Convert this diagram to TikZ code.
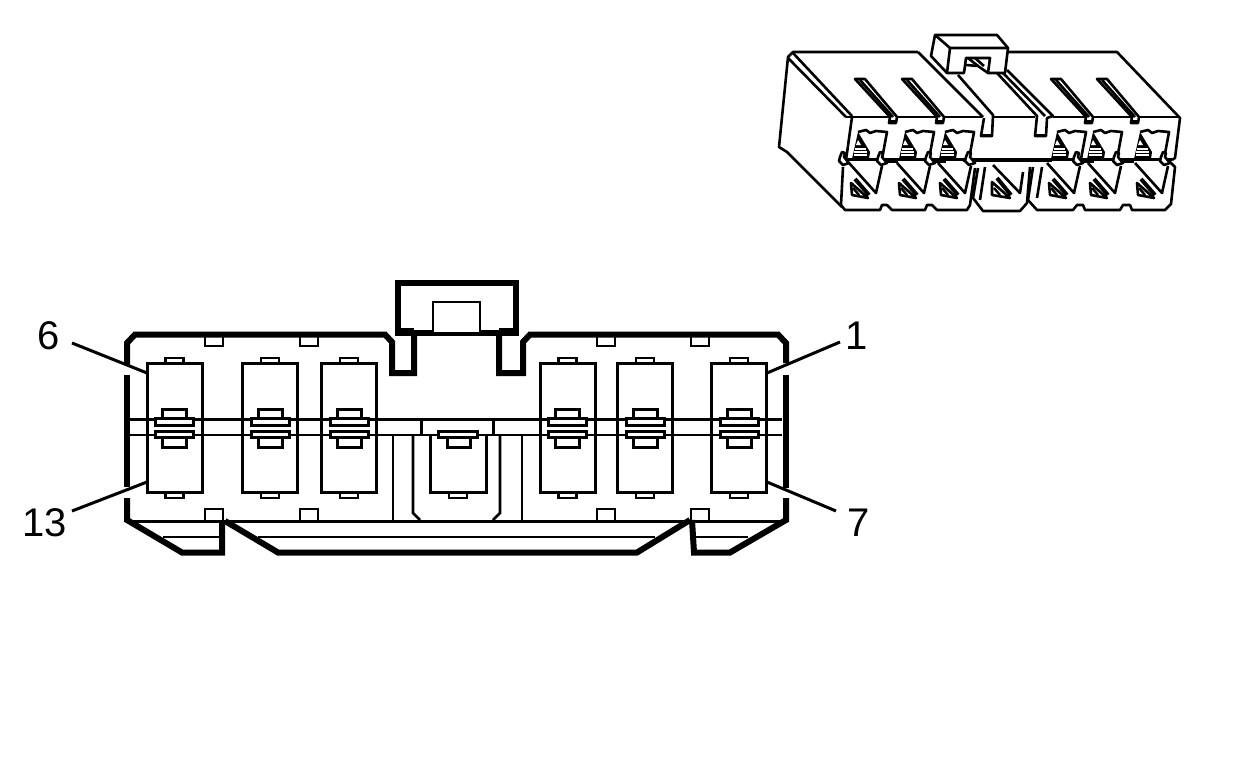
\documentclass[tikz,border=0pt]{standalone}
\usepackage{fontspec}
\setmainfont{Liberation Sans}
\tikzset{
  heavy/.style={line width=6pt,line join=miter,line cap=butt},
  med/.style={line width=3pt,line join=miter},
  thin1/.style={line width=2.8pt,line join=miter},
  iso/.style={line width=2.6pt,line join=round},
  label1/.style={font=\fontsize{40}{40}\selectfont,inner sep=0pt,text=black}
}
\newcommand{\cavity}[1]{%
  \draw[med] (#1-27.5,363) rectangle (#1+27.5,492);
  \draw[thin1] (#1-9,363) -- (#1-9,358) -- (#1+9,358) -- (#1+9,363);
  \draw[thin1] (#1-9,492) -- (#1-9,498) -- (#1+9,498) -- (#1+9,492);
}
\newcommand{\clipbars}[1]{%
  \draw[med] (#1-12,419) -- (#1-12,409) -- (#1+12,409) -- (#1+12,419);
  \draw[med] (#1-12,437) -- (#1-12,447) -- (#1+12,447) -- (#1+12,437);
  \draw[med,fill=white] (#1-19,418) rectangle (#1+19,425);
  \draw[med,fill=white] (#1-19,431) rectangle (#1+19,437);
}
\newcommand{\slotiso}[2]{%
  \begin{scope}[shift={(#1,#2)}]
  \draw[iso,fill=white] (0,0) -- (10,0) -- (42,38) -- (41,44) -- (34,44) -- (35,38) -- cycle;
  \draw[iso] (5,1) -- (38,38);
  \fill (35,41) rectangle (41,44);
  \end{scope}
}
\newcommand{\upcav}[1]{%
  \begin{scope}[shift={(#1,132)}]
  \draw[iso] (0,0) -- (8,-2) -- (12,1) -- (18,-1) -- (29,0) -- (24,27);
  \fill (0,0) -- (12,20) -- (11,27) -- (-6,27) -- cycle;
  \fill[white] (0,8) -- (3,13) -- (-2,13) -- cycle;
  \draw[white,line width=1.1pt] (-3,17) -- (8,17) (-4,20) -- (9,20) (-4,23) -- (9,23);
  \end{scope}
}
\newcommand{\lowcav}[1]{%
  \begin{scope}[shift={(#1,163)}]
  \draw[iso] (0,0) -- (27,30) -- (33,3);
  \draw[iso] (2,20) -- (3,32) -- (19,35) -- cycle;
  \draw[line width=4pt] (6,16) -- (20,32);
  \draw[line width=2.4pt] (4,25) -- (10,32);
  \end{scope}
}
\newcommand{\hookiso}[1]{%
  \begin{scope}[shift={(#1,160)}]
  \draw[iso,fill=white] (1,-3) -- (3,-8) -- (6,-7) -- (5,-3) -- (10,3) -- (4,5) -- (0,1) -- cycle;
  \end{scope}
}
\newcommand{\bandpiece}[1]{%
  \draw[line width=4.4pt] (#1+5,160.5) -- (#1+21,160.5);
}
\begin{document}
\begin{tikzpicture}[x=1pt,y=-1pt]
\useasboundingbox (0,0) rectangle (1248,772);
\fill[white] (0,0) rectangle (1248,772);

% ---------- front view ----------
\foreach \c in {174.5,270,349,567.5,645,739} {\cavity{\c}}
\draw[thin1] (130,419.5) -- (782,419.5);
\draw[thin1] (130,435) -- (782,435);
\draw[med] (421,419.5) -- (421,435);
\draw[med] (493,419.5) -- (493,435);
\foreach \c in {174.5,270,349,567.5,645,739} {\clipbars{\c}}
% centre cavity
\draw[med] (430,435) -- (430,492) -- (486,492) -- (486,435);
\draw[thin1] (449,492) -- (449,498) -- (467,498) -- (467,492);
\draw[med] (447,437) -- (447,447) -- (470,447) -- (470,437);
\draw[med,fill=white] (438,431) rectangle (477,437);
% verticals under
\draw[line width=2.2pt] (393,435) -- (393,521);
\draw[line width=2.2pt] (522,435) -- (522,521);
\draw[thin1] (413,435) -- (413,513) -- (420,520);
\draw[thin1] (500,435) -- (500,513) -- (493,520);
% notches on rim
\foreach \n in {205,300,597,691} {
  \draw[thin1] (\n,336) -- (\n,346) -- (\n+18,346) -- (\n+18,336);
  \draw[thin1] (\n,521) -- (\n,509) -- (\n+18,509) -- (\n+18,521);
}
% lower rail
\draw[med] (133,521.5) -- (785,521.5);
\draw[line width=2.4pt] (163,537) -- (221,537);
\draw[line width=2.4pt] (258,537) -- (655,537);
\draw[line width=2.4pt] (695,537) -- (748,537);
% outer rim
\draw[heavy] (127,365) -- (127,343) -- (135,334.5) -- (385,334.5) -- (392,342) -- (392,373) -- (414,373) -- (414,333);
\draw[heavy] (499,333) -- (499,373) -- (523,373) -- (523,342) -- (530,334.5) -- (778,334.5) -- (786,343) -- (786,363);
\draw[heavy] (127,375) -- (127,487);
\draw[heavy] (786,375) -- (786,488);
\draw[heavy] (127,498) -- (127,520) -- (182,552.5) -- (222,552.5) -- (222,520);
\draw[heavy] (225,521) -- (278,552.5) -- (637,552.5) -- (690,520);
\draw[heavy] (692,520) -- (694,552.5) -- (730,552.5) -- (786,520) -- (786,498);
% tab
\draw[heavy] (398,333) -- (398,282.5) -- (516,282.5) -- (516,333) -- cycle;
\draw[thin1,fill=white] (433,333) -- (433,302) -- (480,302) -- (480,333);
\draw[line width=2.2pt] (398,333) -- (516,333);
\draw[heavy] (398,330.5) -- (414,330.5) (499,330.5) -- (516,330.5);

% labels and leaders
\node[label1] (l6) at (49,336) {6};
\node[label1] (l1) at (857,336) {1};
\node[label1] (l13) at (45,523) {13};
\node[label1] (l7) at (859,523) {7};
\coordinate (e6) at (72,343);
\coordinate (c6) at (147,373);
\coordinate (e1) at (840,342);
\coordinate (c1) at (767,373);
\coordinate (e13) at (72,511);
\coordinate (c13) at (147,482);
\coordinate (e7) at (836,511);
\coordinate (c7) at (767,482);
\draw[med] (e6) -- (c6);
\draw[med] (e1) -- (c1);
\draw[med] (e13) -- (c13);
\draw[med] (e7) -- (c7);

% ---------- perspective view ----------
\draw[iso] (790,55) -- (793,52) -- (918,52);
\draw[iso] (790,55) -- (788,57) -- (779,147) -- (787,152) -- (842,207);
\draw[iso] (788,58) -- (846,117);
\draw[iso] (793,53) -- (852,116);
\draw[iso] (1008,52) -- (1117,52) -- (1180,118) -- (1175,158) -- (1172,160);
\draw[iso] (918,52) -- (948,82) -- (983,117);
\draw[iso] (852,117) -- (846,160);
\draw[line width=2.2pt] (846,117) -- (982,117) (993,117) -- (1035,117) (1053,117) -- (1180,117);
% slots
\slotiso{855}{79}
\slotiso{902}{79}
\slotiso{1051}{79}
\slotiso{1097}{79}
% centre channel
\draw[iso] (958,75) -- (993,115) -- (992,136) -- (981,136) -- (984,118);
\fill (981,134) rectangle (993,137);
\draw[iso] (997,73) -- (1037,116) -- (1035,136) -- (1046,136) -- (1047,118) -- (1053,116) -- (1007,70);
\draw[iso] (1003,73) -- (1045,116);
\fill (1035,134) rectangle (1046,137);
% latch
\draw[iso,fill=white] (935,35) -- (997,35) -- (1008,48) -- (1005,73) -- (988,73) -- (990,58) -- (966,58) -- (964,73) -- (947,73) -- (931,56) -- cycle;
\draw[iso] (935,35) -- (950,48) -- (1008,48);
\draw[iso] (950,48) -- (947,73);
\draw[iso] (966,65) -- (978,66) -- (988,73);
\draw[iso] (968,58) -- (978,66);
\draw[iso] (975,58) -- (984,66);
% upper cavities
\foreach \u in {858,905,945,1057,1093,1140} {\upcav{\u}}
% band
\draw[line width=2.4pt] (846,159.5) -- (1172,159.5);
\draw[line width=4pt] (963,160) -- (1052,160);
\foreach \h in {877,925,1073,1113} {\bandpiece{\h}}
% lower cavities
\foreach \w in {849,897,938,1047,1088,1135} {\lowcav{\w}}
\begin{scope}[shift={(993,165)}]
  \draw[iso] (0,0) -- (27,28) -- (30,7);
  \draw[iso] (-1,17) -- (-1,30) -- (17,33) -- cycle;
  \draw[line width=4pt] (4,13) -- (18,30);
  \draw[line width=2.4pt] (1,23) -- (7,30);
\end{scope}
% front of lower row
\draw[iso] (843,167) -- (841,205) -- (845,210) -- (880,210) -- (882,205) -- (887,205) -- (892,210) -- (925,210) -- (927,205) -- (932,205) -- (937,210) -- (967,210) -- (970,205) -- (975,168);
\draw[iso] (978,168) -- (973,198) -- (983,211) -- (1020,211) -- (1027,203) -- (1030,167);
\draw[iso] (985,167) -- (980,200);
\draw[iso] (1033,167) -- (1028,200) -- (1037,210) -- (1073,210) -- (1077,205) -- (1083,205) -- (1085,210) -- (1120,210) -- (1123,205) -- (1130,205) -- (1132,210) -- (1165,210) -- (1171,204) -- (1175,167) -- (1168,160);
\draw[iso] (1042,167) -- (1037,198);
% hooks
\foreach \h in {839,877,925,965,1073,1113,1160} {\hookiso{\h}}
\end{tikzpicture}
\end{document}
